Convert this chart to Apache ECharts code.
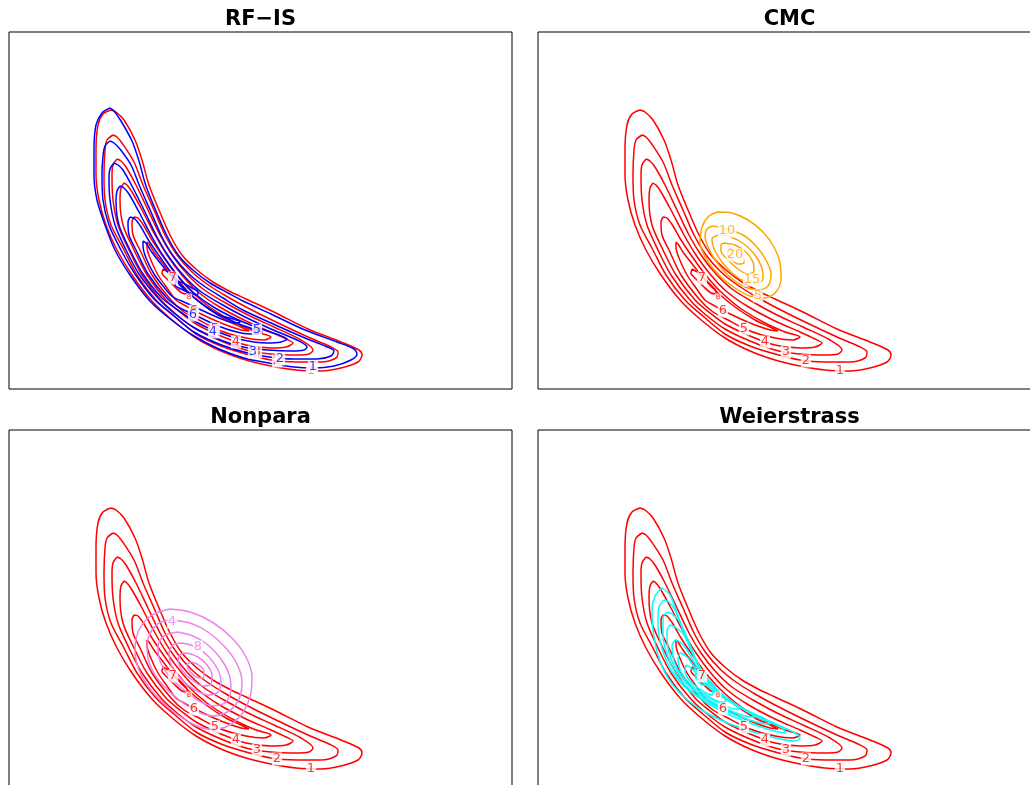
<!DOCTYPE html>
<html><head><meta charset="utf-8">
<script src="https://cdn.jsdelivr.net/npm/echarts@6/dist/echarts.min.js"></script>
<style>html,body{margin:0;padding:0;background:#fff}#c{width:1030px;height:785px}</style>
</head><body><div id="c"></div>
<script>
const panelTitles = ['RF\u2212IS', 'CMC', 'Nonpara', 'Weierstrass'];

// True density contours (red), levels 1..8, panel-local units
const redL1 = [[102,279],[94,275],[89,264],[87,239],[87,214],[90,189],[97,164],[108,139],[123,114],[142,89],[162,70],[187,51],[212,38],[237,29],[262,23],[287,19],[312,18],[332,21],[349,27],[353,34],[350,39],[332,47],[299,60],[265,77],[237,90],[222,97],[204,107],[188,119],[173,134],[161,154],[150,179],[140,204],[133,229],[126,249],[115,269],[107,277]];
const redL2 = [[104,254],[98,249],[96,239],[95,214],[96,189],[102,164],[115,139],[128,114],[147,89],[166,72],[187,55],[212,43],[237,35],[262,29],[287,27],[312,27],[327,31],[329,37],[320,43],[299,52],[265,68],[237,82],[217,93],[198,105],[183,117],[168,134],[156,154],[145,179],[134,204],[125,227],[113,246],[108,252]];
const redL3 = [[108,230],[104,224],[103,214],[104,189],[109,164],[120,139],[133,114],[152,89],[168,74],[187,60],[212,48],[237,39],[262,35],[287,34],[300,35],[304,39],[292,49],[265,62],[239,74],[215,87],[194,100],[178,115],[163,134],[151,154],[139,179],[127,204],[117,222],[112,228]];
const redL4 = [[115,206],[112,201],[111,189],[114,164],[125,139],[138,114],[157,89],[172,76],[187,65],[212,53],[237,44],[262,41],[277,42],[284,46],[277,50],[262,57],[237,68],[209,83],[188,98],[172,115],[158,134],[146,154],[133,179],[123,197],[118,204]];
const redL5 = [[125,172],[123,167],[124,154],[131,139],[143,114],[162,89],[175,77],[188,70],[212,58],[237,51],[255,49],[262,52],[247,57],[227,66],[202,81],[182,98],[166,116],[153,134],[143,149],[135,163],[129,171]];
const redL6 = [[138,147],[138,142],[141,131],[149,114],[158,101],[167,89],[177,83],[188,77],[212,66],[232,59],[240,58],[232,62],[217,69],[197,82],[180,96],[167,109],[155,124],[145,137],[140,145]];
const redL7 = [[154,120],[159,117],[167,110],[174,103],[178,98],[178,95],[173,96],[165,103],[158,110],[153,116]];
const redL8 = [[178,93],[181,93],[182,91],[179,90]];
const redLabels = [[302,18,'1'],[268,28,'2'],[248,37,'3'],[227,47,'4'],[206,60,'5'],[185,78,'6'],[164,111,'7']];
const redSmallLabels = [[180,92,'8']];

// RF-IS estimate (blue)
const blueL1 = [[101,281],[93,276],[87,264],[85,239],[85,214],[88,189],[96,164],[106,139],[121,114],[140,89],[160,71],[185,53],[210,40],[235,31],[260,26],[285,22],[305,21],[325,23],[342,29],[348,35],[345,40],[328,47],[296,59],[262,75],[234,88],[219,96],[201,106],[185,118],[170,133],[158,153],[147,178],[137,203],[130,228],[123,248],[112,268],[105,278]];
const blueL2 = [[101,248],[96,243],[94,233],[93,214],[94,189],[100,164],[112,139],[126,115],[145,90],[164,74],[185,57],[210,45],[235,37],[260,32],[285,30],[308,30],[322,33],[325,38],[316,43],[296,51],[262,66],[234,79],[214,91],[195,103],[180,115],[165,132],[153,152],[142,177],[131,202],[122,224],[111,240],[105,246]];
const blueL3 = [[105,226],[101,220],[100,210],[101,189],[106,164],[117,139],[130,115],[149,91],[165,76],[184,62],[209,50],[234,42],[259,39],[283,38],[295,39],[298,42],[288,49],[262,60],[236,72],[212,85],[191,98],[175,113],[160,132],[148,152],[136,177],[124,201],[114,219],[109,224]];
const blueL4 = [[111,203],[108,198],[107,188],[110,164],[121,139],[134,115],[153,91],[169,79],[185,68],[209,57],[234,49],[258,46],[272,47],[278,50],[270,54],[258,58],[234,67],[206,81],[185,96],[169,113],[155,132],[143,152],[130,177],[120,195],[115,201]];
const blueL5 = [[121,172],[119,167],[120,154],[127,139],[139,115],[158,91],[171,81],[186,74],[209,63],[232,56],[248,55],[253,57],[244,60],[225,67],[200,80],[180,96],[164,114],[151,132],[140,148],[132,162],[126,170]];
const blueL6 = [[134,148],[134,143],[137,131],[145,115],[154,103],[164,92],[175,87],[188,81],[210,71],[226,66],[231,67],[224,70],[210,74],[195,84],[178,97],[165,110],[152,125],[142,138],[137,146]];
const blueL7 = [[167,108],[174,106],[183,101],[189,97],[188,94],[181,96],[172,100],[166,104]];
const blueLabels = [[304,22,'1'],[271,30,'2'],[244,37,'3'],[204,57,'4'],[248,59,'5'],[184,74,'6']];

// CMC estimate (orange), levels 5..25
const orangeL5 = [[180,177],[194,176],[210,169],[225,157],[236,142],[242,126],[243,110],[238,97],[227,91],[212,93],[197,101],[182,113],[169,129],[162,146],[164,162],[171,173]];
const orangeL10 = [[174,163],[189,160],[205,154],[218,143],[228,129],[233,115],[230,103],[220,99],[207,102],[193,111],[180,125],[171,140],[167,153],[169,160]];
const orangeL15 = [[180,154],[193,152],[206,145],[217,134],[224,121],[225,110],[219,105],[208,107],[195,115],[184,127],[176,140],[174,150]];
const orangeL20 = [[186,146],[197,144],[208,137],[215,127],[216,118],[210,115],[200,120],[190,129],[183,138],[183,144]];
const orangeL25 = [[191,140],[199,138],[205,132],[206,126],[200,125],[193,130],[189,136]];
const orangeLabels = [[220,93,'5'],[189,158,'10'],[214,109,'15'],[197,134,'20']];

// Nonpara estimate (violet)
const violetL2 = [[161,178],[181,175],[203,165],[223,149],[237,130],[243,110],[241,90],[232,72],[217,60],[199,58],[180,65],[160,79],[142,97],[130,117],[126,137],[130,157],[143,172]];
const violetL4 = [[163,167],[181,164],[199,155],[216,140],[228,123],[233,105],[230,88],[220,76],[204,71],[187,76],[169,88],[152,104],[141,122],[138,141],[143,157],[152,165]];
const violetL6 = [[168,155],[184,151],[199,142],[212,128],[220,113],[222,97],[217,85],[205,81],[190,86],[175,97],[160,111],[151,126],[149,141],[155,151]];
const violetL8 = [[173,144],[187,140],[199,131],[208,119],[212,106],[209,95],[199,92],[186,97],[173,107],[163,120],[160,133],[164,142]];
const violetL10 = [[178,134],[189,130],[198,122],[203,112],[202,103],[194,101],[183,107],[173,117],[169,127],[172,133]];
const violetL12 = [[182,125],[190,122],[195,115],[194,109],[187,110],[180,117],[178,122]];
const violetLabels = [[163,165,'4'],[189,140,'8']];

// Weierstrass estimate (cyan)
const cyanL1 = [[124,199],[117,191],[114,177],[115,157],[120,132],[130,109],[146,90],[167,75],[192,63],[219,54],[242,48],[257,46],[262,49],[257,54],[240,62],[214,74],[190,88],[172,105],[159,125],[148,149],[139,174],[132,192]];
const cyanL2 = [[126,187],[121,180],[120,162],[124,139],[133,117],[148,99],[169,84],[194,71],[220,61],[240,55],[248,54],[244,59],[224,68],[200,81],[180,96],[165,114],[154,135],[145,157],[137,177],[131,185]];
const cyanL3 = [[129,175],[125,169],[125,152],[130,130],[140,110],[156,94],[176,82],[200,71],[222,64],[232,63],[227,68],[207,77],[186,90],[170,106],[159,125],[150,147],[142,165],[134,173]];
const cyanL4 = [[132,162],[129,156],[130,139],[136,121],[148,104],[165,90],[186,79],[207,71],[217,70],[211,75],[192,85],[175,99],[163,115],[154,135],[146,152],[137,160]];
const cyanL5 = [[137,147],[134,141],[136,126],[144,110],[158,96],[177,86],[197,78],[202,78],[195,84],[178,94],[166,107],[157,123],[149,137],[142,145]];
const cyanL6 = [[142,134],[140,128],[143,115],[153,102],[168,92],[184,85],[188,86],[180,93],[167,104],[158,117],[150,129],[145,133]];
const cyanL7 = [[148,122],[147,116],[152,106],[163,97],[174,92],[175,95],[167,103],[159,113],[152,120]];
const cyanL8 = [[157,113],[159,107],[165,102],[168,103],[165,109],[160,113]];

const RED = '#FF0000', BLUE = '#0000FF', ORANGE = '#FFA500', VIOLET = '#EE82EE', CYAN = '#00FFFF';
const redSet = [redL1, redL2, redL3, redL4, redL5, redL6, redL7, redL8];

const gridBoxes = [
  {left: 9, top: 32}, {left: 538, top: 32}, {left: 9, top: 430}, {left: 538, top: 430}
];
const TITLE_FONT = 'DejaVu Sans, Verdana, sans-serif';
const LABEL_FONT = 'DejaVu Sans, Liberation Sans, sans-serif';

function contourSeries(list, color, gi) {
  return list.map(pts => ({
    type: 'line', xAxisIndex: gi, yAxisIndex: gi,
    data: pts.concat([pts[0]]), smooth: 0.3, symbol: 'none', silent: true,
    lineStyle: {color: color, width: 1.5}, z: 2
  }));
}
function labelSeries(list, color, gi, size, z) {
  return {
    type: 'scatter', xAxisIndex: gi, yAxisIndex: gi, data: list, symbolSize: 1, silent: true, z: z,
    itemStyle: {color: 'rgba(0,0,0,0)'},
    label: {show: true, position: 'inside', formatter: p => String(p.data[2]), color: color,
      fontSize: size, fontFamily: LABEL_FONT, backgroundColor: '#fff', padding: [0, 1], lineHeight: size}
  };
}

let series = [];
for (let g = 0; g < 4; g++) {
  series = series.concat(contourSeries(redSet, RED, g));
  series.push(labelSeries(redLabels, RED, g, 13, 5));
  series.push(labelSeries(redSmallLabels, RED, g, 7, 5));
}
series = series.concat(contourSeries([blueL1, blueL2, blueL3, blueL4, blueL5, blueL6, blueL7], BLUE, 0));
series.push(labelSeries(blueLabels, BLUE, 0, 13, 6));
series = series.concat(contourSeries([orangeL5, orangeL10, orangeL15, orangeL20, orangeL25], ORANGE, 1));
series.push(labelSeries(orangeLabels, ORANGE, 1, 13, 6));
series = series.concat(contourSeries([violetL2, violetL4, violetL6, violetL8, violetL10, violetL12], VIOLET, 2));
series.push(labelSeries(violetLabels, VIOLET, 2, 13, 6));
series = series.concat(contourSeries([cyanL1, cyanL2, cyanL3, cyanL4, cyanL5, cyanL6, cyanL7, cyanL8], CYAN, 3));

const chart = echarts.init(document.getElementById('c'), null, {renderer: 'canvas'});
chart.setOption({
  animation: false,
  backgroundColor: '#fff',
  title: gridBoxes.map((b, i) => ({
    text: panelTitles[i], left: b.left + 251.5, top: b.top - 23, textAlign: 'center', padding: 0,
    textStyle: {fontSize: 21, fontWeight: 'bold', fontFamily: TITLE_FONT, color: '#000', lineHeight: 21}
  })),
  grid: gridBoxes.map(b => ({left: b.left, top: b.top, width: 503, height: 357, show: true,
    outerBoundsMode: 'none', containLabel: false,
    borderColor: '#000', borderWidth: 1, backgroundColor: 'transparent'})),
  xAxis: gridBoxes.map((b, i) => ({type: 'value', gridIndex: i, min: 0, max: 503, show: false})),
  yAxis: gridBoxes.map((b, i) => ({type: 'value', gridIndex: i, min: 0, max: 357, show: false})),
  series: series
});
</script></body></html>
